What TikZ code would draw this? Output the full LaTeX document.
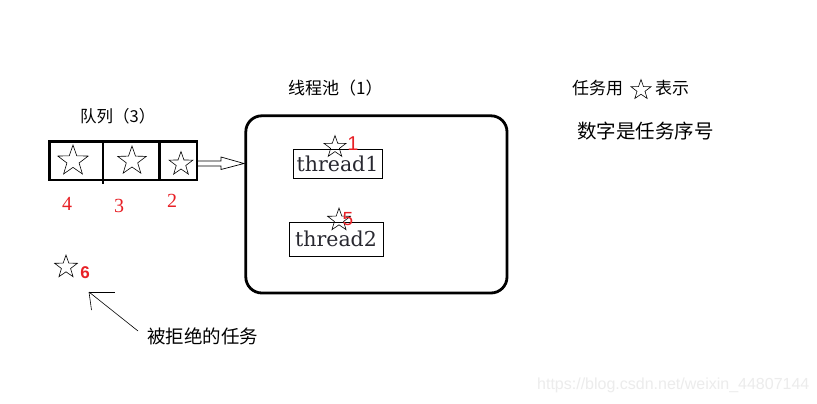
\documentclass[tikz,border=0pt]{standalone}
\usepackage{fontspec}
\setmainfont{Liberation Sans}
\newfontfamily\cjk{Noto Sans CJK SC}
\newfontfamily\thr{DejaVu Serif}
\newfontfamily\numserif{Liberation Serif}
\usetikzlibrary{shapes.geometric,calc}
\definecolor{numred}{RGB}{232,32,38}
\definecolor{wmark}{RGB}{236,236,236}
\definecolor{thrtext}{RGB}{40,40,48}
\begin{document}
\begin{tikzpicture}[x=1pt,y=-1pt,
  starnode/.style={star,star points=5,star point ratio=2.5,draw,line width=0.6pt,inner sep=0pt,minimum size=#1},
  num/.style={text=numred,font=\fontsize{18}{18}\selectfont,inner sep=0pt},
  qnum/.style={text=numred,font=\numserif\fontsize{20}{20}\selectfont,inner sep=0pt},
  cjklabel/.style={font=\cjk\fontsize{#1}{#1}\selectfont,inner sep=0pt,anchor=west},
  threadbox/.style={draw,line width=0.7pt,text=thrtext,font=\thr\fontsize{20.5}{20.5}\selectfont,inner sep=0pt},
  thickbox/.style={draw,line width=2.8pt,inner sep=0pt,anchor=north west}]
\useasboundingbox[fill=white] (0,0) rectangle (817,404);

% queue
\node[thickbox,minimum width=147.2pt,minimum height=38.2pt] (queue) at (48.4,140.4) {};
\coordinate (d1t) at (103,140.4);
\coordinate (d1b) at (103,184);
\coordinate (d2t) at (159.5,140.4);
\coordinate (d2b) at (159.5,178.6);
\draw[line width=2.2pt] (d1t) -- (d1b);
\draw[line width=2.2pt] (d2t) -- (d2b);
\node[starnode=32pt] (q4) at (73,161) {};
\node[starnode=30pt] (q3) at (132,161) {};
\node[starnode=25pt] (q2) at (181,164) {};
\node[qnum] (n4) at (67,204) {4};
\node[qnum] (n3) at (119,206) {3};
\node[qnum] (n2) at (172,201) {2};
\node[cjklabel=16.5] (qlabel) at (80,116) {队列（3）};

% pool
\node[thickbox,minimum width=261.2pt,minimum height=177.2pt,rounded corners=16pt] (pool) at (244.4,114.4) {};
\node[cjklabel=17] (plabel) at (288,88) {线程池（1）};

% hollow arrow
\coordinate (a1) at (197,161);
\coordinate (a2) at (221,161);
\coordinate (a3) at (221,157);
\coordinate (a4) at (244,163.5);
\coordinate (a5) at (221,169.5);
\coordinate (a6) at (221,166);
\coordinate (a7) at (197,166);
\draw[line width=0.7pt,line join=miter] (a1) -- (a2) -- (a3) -- (a4) -- (a5) -- (a6) -- (a7);

% threads
\node[threadbox,minimum width=89pt,minimum height=29pt] (t1) at (337.5,163.5) {thread1};
\node[threadbox,minimum width=94pt,minimum height=34pt] (t2) at (336,239) {thread2};
\node[starnode=23pt] (s1) at (335,147) {};
\node[starnode=24pt] (s5) at (339,220) {};
\node[num,font=\fontsize{20}{20}\selectfont] (n1) at (353,144) {1};
\node[num,font=\fontsize{19}{19}\selectfont] (n5) at (348,219) {5};

% rejected
\node[starnode=24pt] (s6) at (66,267) {};
\node[num,font=\bfseries\fontsize{17}{17}\selectfont] (n6) at (85,273) {6};
\coordinate (rhead) at (89,292);
\coordinate (rtail) at (138,331);
\coordinate (rh1) at (115,292);
\coordinate (rh2) at (91.5,310);
\draw[line width=0.6pt] (rtail) -- (rhead);
\draw[line width=0.6pt] (rhead) -- (rh1);
\draw[line width=0.6pt] (rhead) -- (rh2);
\node[cjklabel=18.5] (rlabel) at (147,336) {被拒绝的任务};

% legend
\node[cjklabel=17] (leg1) at (572,88) {任务用};
\node[starnode=21pt] (legstar) at (641,90) {};
\node[cjklabel=17] (leg2) at (655,88) {表示};
\node[cjklabel=19.5] (leg3) at (577,131) {数字是任务序号};

% watermark
\node[text=wmark,font=\fontsize{16}{16}\selectfont,inner sep=0pt,anchor=west] (wm) at (537,385) {https://blog.csdn.net/weixin\_44807144};
\end{tikzpicture}
\end{document}
